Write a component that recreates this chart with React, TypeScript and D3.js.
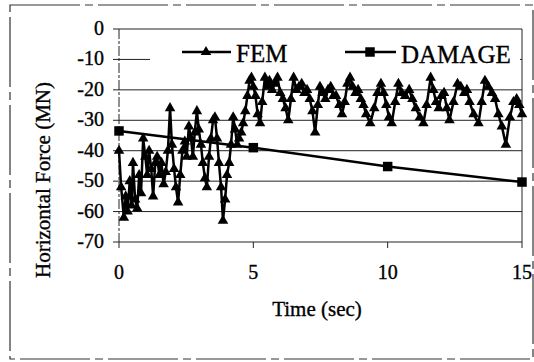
import React from "react";
import * as d3 from "d3";

const femT = [0.00,0.08,0.18,0.25,0.32,0.40,0.47,0.52,0.60,0.68,0.75,0.82,0.90,0.98,1.05,1.12,1.20,1.27,1.35,1.42,1.50,1.58,1.66,1.74,1.82,1.90,1.97,2.05,2.12,2.20,2.28,2.36,2.45,2.52,2.60,2.68,2.75,2.82,2.90,2.97,3.05,3.12,3.20,3.27,3.35,3.42,3.50,3.57,3.65,3.72,3.80,3.87,3.95,4.02,4.10,4.17,4.25,4.32,4.40,4.47,4.55,4.62,4.70,4.78,4.86,4.93,5.00,5.08,5.16,5.25,5.33,5.43,5.52,5.60,5.70,5.80,5.90,6.00,6.10,6.20,6.30,6.40,6.50,6.60,6.70,6.80,6.90,7.00,7.10,7.20,7.30,7.40,7.48,7.58,7.68,7.78,7.88,7.98,8.08,8.20,8.30,8.40,8.50,8.60,8.70,8.80,8.90,9.00,9.10,9.20,9.35,9.50,9.62,9.75,9.85,9.95,10.05,10.15,10.28,10.40,10.52,10.65,10.80,10.92,11.05,11.20,11.33,11.45,11.60,11.70,11.80,11.90,12.00,12.10,12.20,12.30,12.45,12.60,12.72,12.85,12.95,13.05,13.20,13.38,13.50,13.62,13.75,13.88,14.00,14.12,14.25,14.40,14.55,14.68,14.80,14.90,15.00];
const femV = [-40,-52,-62,-55,-60,-50,-58,-44,-56,-59,-48,-54,-36,-42,-48,-40,-46,-55,-44,-42,-48,-44,-51,-47,-40,-26,-38,-46,-52,-57,-48,-40,-37,-42,-32,-36,-42,-34,-27,-33,-38,-44,-49,-52,-42,-36,-30,-29,-36,-44,-52,-63,-56,-48,-44,-38,-29,-33,-38,-36,-34,-31,-27,-22,-17,-16,-19,-22,-28,-31,-24,-16,-19,-17,-20,-18,-16,-21,-23,-26,-30,-23,-16,-20,-19,-18,-21,-20,-23,-27,-34,-25,-19,-21,-23,-20,-19,-22,-22,-25,-28,-24,-18,-16,-19,-21,-20,-23,-25,-28,-31,-26,-21,-18,-21,-25,-29,-31,-24,-18,-21,-22,-20,-23,-26,-29,-31,-25,-16,-20,-24,-26,-22,-21,-26,-30,-24,-18,-19,-21,-20,-24,-28,-31,-24,-17,-19,-21,-23,-28,-32,-38,-29,-24,-23,-25,-28];

const damT = [0, 5, 10, 15];
const damV = [-33.5, -39, -45.2, -50.3];

const yTicks = [0, -10, -20, -30, -40, -50, -60, -70];
const xTicks = [0, 5, 10, 15];

const FONT = "Liberation Serif";

export default function App() {
  const x = d3.scaleLinear().domain([0, 15]).range([119, 522]);
  const y = d3.scaleLinear().domain([-70, 0]).range([242, 29]);

  const fem = femT.map((t, i) => [t, femV[i]] as [number, number]);
  const dam = damT.map((t, i) => [t, damV[i]] as [number, number]);

  const line = d3.line<[number, number]>().x(d => x(d[0])).y(d => y(d[1]));
  const tri = d3.symbol().type(d3.symbolTriangle).size(48)()!;
  const sq = d3.symbol().type(d3.symbolSquare).size(90)()!;
  const txt = { fontFamily: FONT, fill: "#000", stroke: "#000", strokeWidth: 0.35 };

  return (
    <svg width={534} height={362} style={{ position: "absolute", left: 0, top: 0, background: "#fff" }}>
      <rect x={0} y={0} width={534} height={362} fill="#fff" />
      <rect x={10} y={5} width={523} height={354} fill="none" stroke="#333" strokeWidth={1.2} strokeDasharray="70 5 8 5" />
      {yTicks.map(v => (
        <line key={"g" + v} x1={113} x2={522} y1={y(v)} y2={y(v)} stroke="#222" strokeWidth={1} />
      ))}
      <line x1={522} x2={522} y1={y(0)} y2={y(-70)} stroke="#222" strokeWidth={1} />
      <line x1={119} x2={119} y1={y(0)} y2={y(-70)} stroke="#222" strokeWidth={1} strokeDasharray="10 2 3 2" />
      {xTicks.map(t => (
        <line key={"xt" + t} x1={x(t)} x2={x(t)} y1={242} y2={248} stroke="#222" strokeWidth={1} />
      ))}
      <rect x={150} y={36} width={370} height={38} fill="#fff" />
      <path d={line(dam)!} fill="none" stroke="#000" strokeWidth={2.5} />
      {dam.map((d, i) => (
        <path key={"ds" + i} d={sq} transform={`translate(${x(d[0])},${y(d[1])})`} fill="#000" />
      ))}
      <path d={line(fem)!} fill="none" stroke="#000" strokeWidth={2.5} strokeLinejoin="round" />
      {fem.map((d, i) => (
        <path key={"ft" + i} d={tri} transform={`translate(${x(d[0])},${y(d[1])})`} fill="#000" />
      ))}
      <line x1={182} x2={231} y1={52} y2={52} stroke="#000" strokeWidth={2.5} />
      <path d={tri} transform="translate(206,52)" fill="#000" />
      <text x={236} y={62} fontSize={25} {...txt}>FEM</text>
      <line x1={345} x2={396} y1={52} y2={52} stroke="#000" strokeWidth={2.5} />
      <path d={sq} transform="translate(370,52)" fill="#000" />
      <text x={401} y={63} fontSize={25} {...txt}>DAMAGE</text>
      {yTicks.map(v => (
        <text key={"yl" + v} x={104} y={y(v) + 6} textAnchor="end" fontSize={20} {...txt}>{v}</text>
      ))}
      {xTicks.map(t => (
        <text key={"xl" + t} x={x(t)} y={279} textAnchor="middle" fontSize={20} {...txt}>{t}</text>
      ))}
      <text x={317} y={316} textAnchor="middle" fontSize={21} {...txt}>Time (sec)</text>
      <text transform="translate(50,180) rotate(-90)" textAnchor="middle" fontSize={21} {...txt}>Horizontal Force (MN)</text>
    </svg>
  );
}
